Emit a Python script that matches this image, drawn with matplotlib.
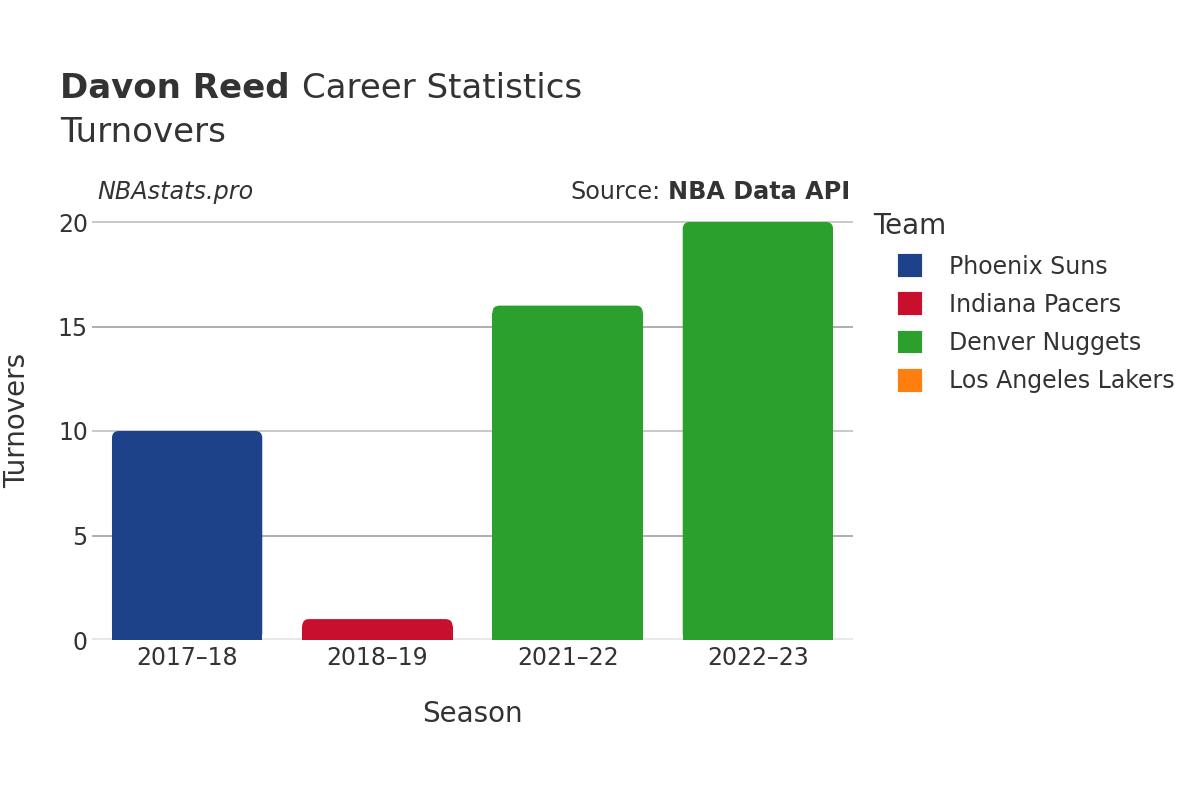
import matplotlib
matplotlib.use("Agg")
from matplotlib import pyplot as plt
from matplotlib.patches import FancyBboxPatch, Patch

seasons = ["2017–18", "2018–19", "2021–22", "2022–23"]
bar_teams = ["Phoenix Suns", "Indiana Pacers", "Denver Nuggets", "Denver Nuggets"]
turnovers = [10, 1, 16, 20]

legend_teams = ["Phoenix Suns", "Indiana Pacers", "Denver Nuggets", "Los Angeles Lakers"]
team_colors = {
    "Phoenix Suns": "#1d428a",
    "Indiana Pacers": "#c8102e",
    "Denver Nuggets": "#2ca02c",
    "Los Angeles Lakers": "#ff7f0e",
}
y_ticks = [0, 5, 10, 15, 20]

plt.rcParams['font.family'] = ['DejaVu Sans']
text_col = "#333333"

fig = plt.figure(figsize=(12, 8), dpi=100)
# plot area in pixels: x 92..853, y 200..640
ax = fig.add_axes([92 / 1200, 1 - 640 / 800, 761 / 1200, 440 / 800])

ymax = 440 / 20.9
ax.set_xlim(-0.5, len(seasons) - 0.5)
ax.set_ylim(0, ymax)

# grid lines
for t in y_ticks[1:]:
    col = "#bbbbbb" if t in (10, 20) else "#999999"
    ax.axhline(t, color=col, lw=1.1, zorder=1)
ax.axhline(0, color="#e8e8e8", lw=3, zorder=1)

# bars with rounded tops
width = 0.79
px_per_x = 761 / 4
px_per_y = 20.9
r_px = 7
aspect = px_per_x / px_per_y
r_x = r_px / px_per_x
for i, (val, team) in enumerate(zip(turnovers, bar_teams)):
    c = team_colors[team]
    r_y = r_px / px_per_y
    ax.bar(i, max(val - r_y, 0), width=width, color=c, zorder=2)
    box = FancyBboxPatch((i - width / 2, 0), width, val,
                         boxstyle="round,pad=0,rounding_size=%f" % r_x,
                         mutation_aspect=aspect, facecolor=c, edgecolor="none", zorder=2)
    ax.add_patch(box)

ax.set_xticks(range(len(seasons)))
ax.set_xticklabels(seasons, fontsize=17, color=text_col)
ax.set_yticks(y_ticks)
ax.set_yticklabels([str(t) for t in y_ticks], fontsize=17, color=text_col)
ax.tick_params(length=0, pad=4)
ax.tick_params(axis="y", pad=3)
for s in ax.spines.values():
    s.set_visible(False)

ax.set_xlabel("Season", fontsize=20, color=text_col, labelpad=22)
fig.text(17 / 1200, 1 - 420 / 800, "Turnovers", rotation=90, fontsize=20,
         color=text_col, ha="center", va="center")

# titles
renderer = fig.canvas.get_renderer()
t1 = fig.text(60 / 1200, 1 - 88 / 800, "Davon Reed", fontsize=24.5, fontweight="bold",
              color=text_col, ha="left", va="center")
bb = t1.get_window_extent(renderer)
fig.text((bb.x1 + 12) / 1200, 1 - 88 / 800, "Career Statistics", fontsize=24.5,
         color=text_col, ha="left", va="center")
fig.text(60 / 1200, 1 - 132 / 800, "Turnovers", fontsize=24.5,
         color=text_col, ha="left", va="center")

fig.text(97 / 1200, 1 - 192 / 800, "NBAstats.pro", fontsize=17.2, style="italic",
         color=text_col, ha="left", va="center")
t2 = fig.text(850 / 1200, 1 - 192 / 800, "NBA Data API", fontsize=17.2, fontweight="bold",
              color=text_col, ha="right", va="center")
bb2 = t2.get_window_extent(renderer)
fig.text((bb2.x0 - 7) / 1200, 1 - 192 / 800, "Source:", fontsize=17.2,
         color=text_col, ha="right", va="center")

# legend
fig.text(873 / 1200, 1 - 226 / 800, "Team", fontsize=20, color=text_col,
         ha="left", va="center")
handles = [Patch(facecolor=team_colors[t], edgecolor=team_colors[t], linewidth=3,
                 joinstyle="round") for t in legend_teams]
leg = fig.legend(handles, legend_teams, loc="upper left",
                 bbox_to_anchor=(881 / 1200, 1 - 236 / 800),
                 frameon=False, fontsize=17,
                 handlelength=0.85, handleheight=0.85, handletextpad=1.25,
                 labelspacing=0.6, borderpad=0.3)
for t in leg.get_texts():
    t.set_color(text_col)

fig.savefig("out.png", dpi=100)
